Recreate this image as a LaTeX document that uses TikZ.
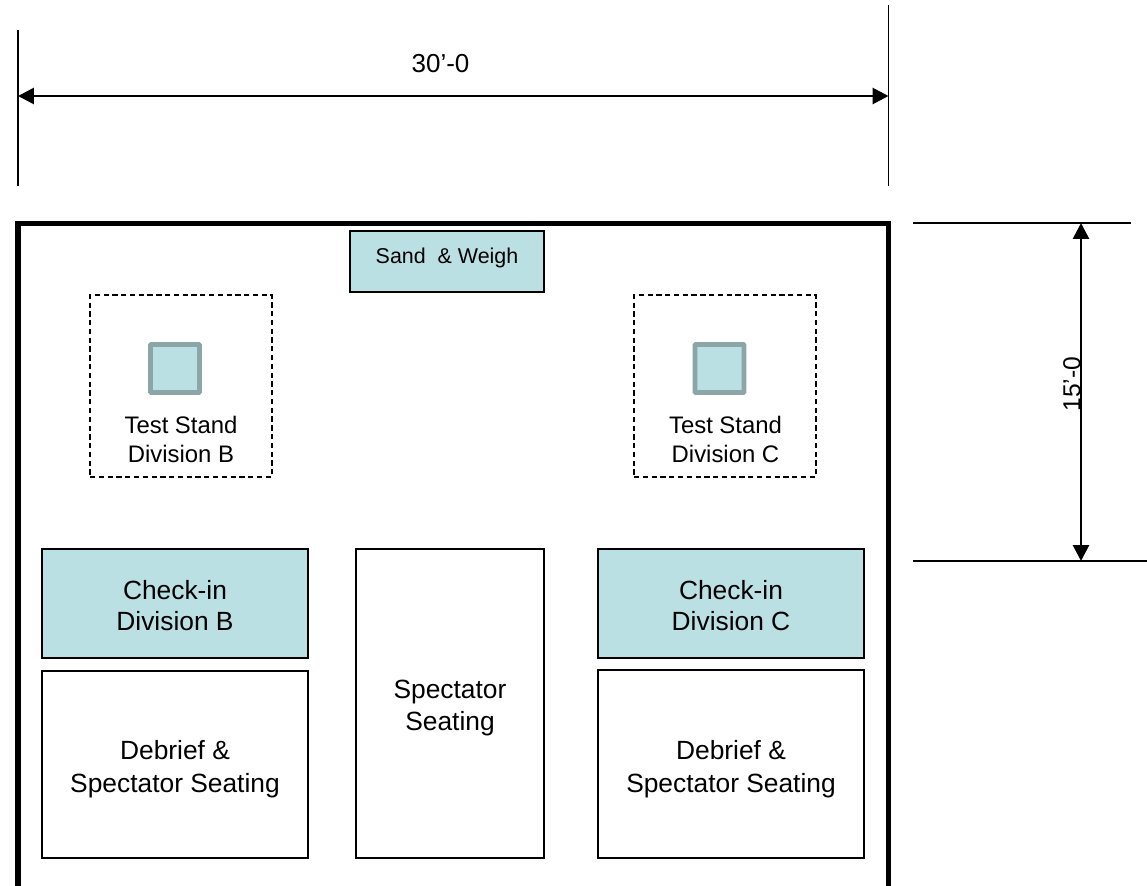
\documentclass[tikz,border=0pt]{standalone}
\usepackage{fontspec}
\setmainfont{Liberation Sans}
\usetikzlibrary{arrows.meta}
\definecolor{zonefill}{HTML}{BBE0E3}
\definecolor{standedge}{HTML}{8CA6A8}
\tikzset{
    zone/.style={draw=black, line width=1pt, fill=zonefill, inner sep=0pt, outer sep=0pt},
    seats/.style={zone, fill=white},
    zonelabel/.style={align=center, inner sep=0pt, font=\fontsize{15}{17.8}\selectfont},
    testarea/.style={draw=black, dashed, line width=0.8pt, dash pattern=on 3pt off 2pt, minimum width=3.64cm, minimum height=3.64cm, inner sep=0pt, outer sep=0pt},
    stand/.style={draw=standedge, line width=2.8pt, fill=zonefill, rounded corners=0.5pt, minimum width=0.98cm, minimum height=0.96cm, inner sep=0pt, outer sep=0pt},
    standlabel/.style={align=center, inner sep=0pt, font=\fontsize{13.6}{16}\selectfont},
    dimline/.style={line width=0.9pt},
    dimarrow/.style={{Triangle[length=9pt,width=9pt]}-{Triangle[length=9pt,width=9pt]}, line width=1.6pt},
    dimlabel/.style={inner sep=0pt, font=\fontsize{14.8}{17}\selectfont}
}
\begin{document}
\begin{tikzpicture}[x=0.02cm, y=-0.02cm]
    \useasboundingbox (0,0) rectangle (1147,886);
    % width dimension
    \coordinate (wa) at (18,30);
    \coordinate (wb) at (18,186);
    \coordinate (wc) at (888.5,5);
    \coordinate (wd) at (888.5,186);
    \coordinate (wl) at (18,96);
    \coordinate (wr) at (888.5,96);
    \draw[dimline] (wa) -- (wb);
    \draw[dimline] (wc) -- (wd);
    \draw[dimarrow] (wl) -- (wr);
    \node[dimlabel] (widthlabel) at (440.5,63.5) {30’-0};
    % depth dimension
    \coordinate (da) at (913,223);
    \coordinate (db) at (1131,223);
    \coordinate (dc) at (913,561);
    \coordinate (dd) at (1147,561);
    \coordinate (dt) at (1081,223);
    \coordinate (du) at (1081,561);
    \draw[dimline] (da) -- (db);
    \draw[dimline] (dc) -- (dd);
    \draw[dimarrow] (dt) -- (du);
    \node[dimlabel, rotate=90, font=\fontsize{14}{17}\selectfont] (depthlabel) at (1072,384) {15’-0};
    % room, open at the bottom
    \coordinate (rooma) at (18,886);
    \coordinate (roomb) at (18,223.5);
    \coordinate (roomc) at (888.5,223.5);
    \coordinate (roomd) at (888.5,886);
    \draw[line width=2.9pt, line join=miter] (rooma) -- (roomb) -- (roomc) -- (roomd);
    % zones
    \node[zone, minimum width=3.88cm, minimum height=1.22cm] (sand) at (447,261.5) {};
    \node[testarea] (testb) at (181,386) {};
    \node[testarea] (testc) at (725,386) {};
    \node[stand] (standb) at (175,368.5) {};
    \node[stand] (standc) at (719.5,368.5) {};
    \node[zone, minimum width=5.32cm, minimum height=2.18cm] (checkb) at (175,603.5) {};
    \node[zone, minimum width=5.32cm, minimum height=2.18cm] (checkc) at (731,603.5) {};
    \node[seats, minimum width=5.32cm, minimum height=3.74cm] (debriefb) at (175,764.5) {};
    \node[seats, minimum width=5.32cm, minimum height=3.76cm] (debriefc) at (731,764) {};
    \node[seats, minimum width=3.76cm, minimum height=6.18cm] (middle) at (450,703.5) {};
    % labels
    \node[zonelabel, font=\fontsize{12.2}{14}\selectfont] (sandlabel) at (447,258) {Sand \ \&\ Weigh};
    \node[standlabel] (labelb) at (181,439.5) {Test Stand\\Division B};
    \node[standlabel] (labelc) at (725.5,439.5) {Test Stand\\Division C};
    \node[zonelabel] (checkblabel) at (175,605.5) {Check-in\\Division B};
    \node[zonelabel] (checkclabel) at (731,605.5) {Check-in\\Division C};
    \node[zonelabel, font=\fontsize{15}{18.7}\selectfont] (debrieflabelb) at (175,769) {Debrief \&\\Spectator Seating};
    \node[zonelabel, font=\fontsize{15}{18.7}\selectfont] (debrieflabelc) at (731,769) {Debrief \&\\Spectator Seating};
    \node[zonelabel] (middlelabel) at (450,708) {Spectator\\Seating};
\end{tikzpicture}
\end{document}
